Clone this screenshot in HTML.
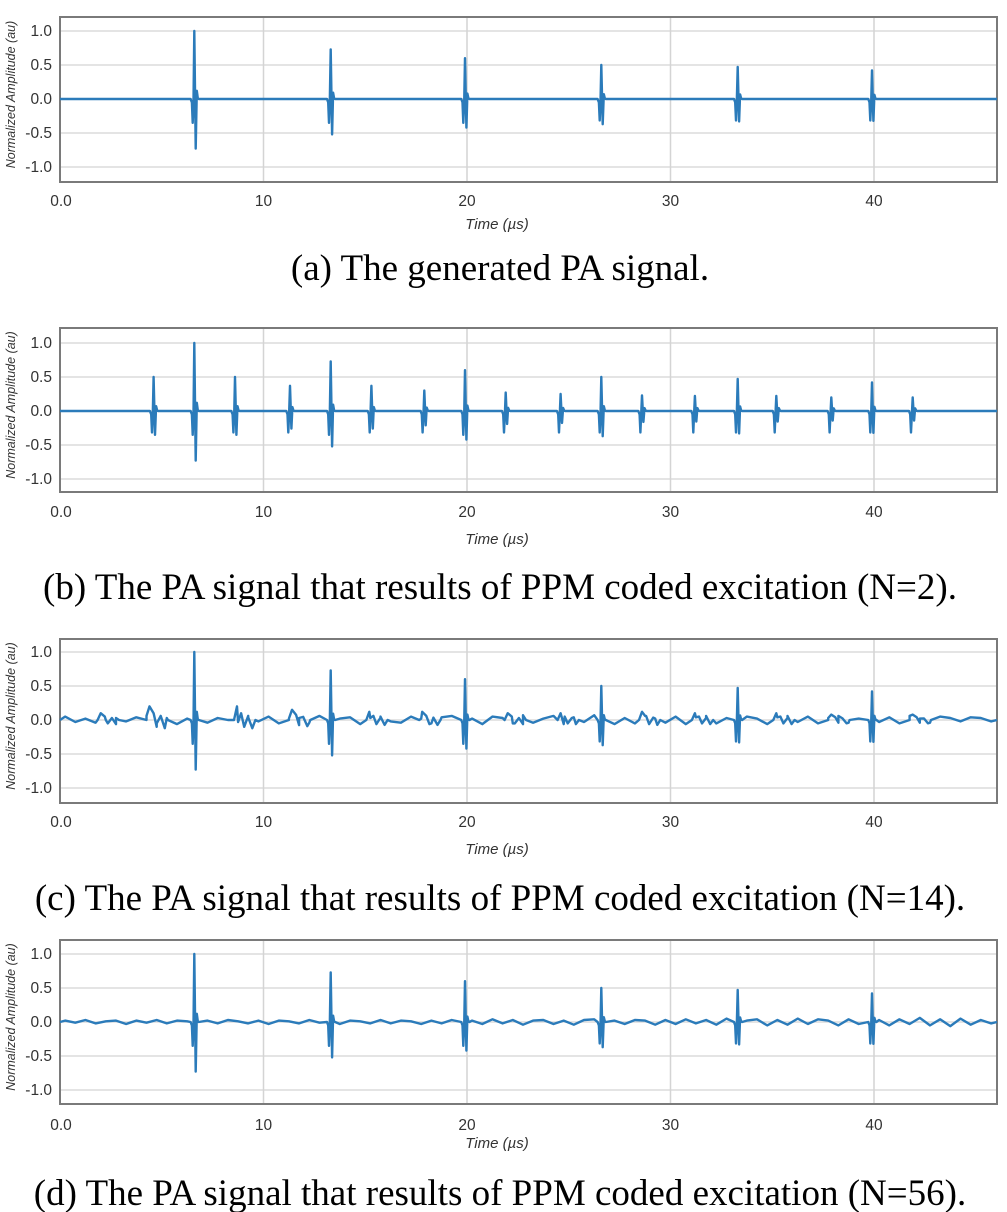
<!DOCTYPE html>
<html><head><meta charset="utf-8">
<style>
html,body{margin:0;padding:0;background:#fff;}
svg{display:block;}
.tick{font-family:"Liberation Sans",sans-serif;font-size:15.5px;fill:#333;}
.ytitle{font-family:"Liberation Sans",sans-serif;font-size:12.5px;font-style:italic;fill:#333;}
.xtitle{font-family:"Liberation Sans",sans-serif;font-size:15px;font-style:italic;fill:#333;}
.cap{font-family:"Liberation Serif",serif;font-size:37px;fill:#000;}
</style></head>
<body>
<svg id="fig" width="1007" height="1212" viewBox="0 0 1007 1212" xmlns="http://www.w3.org/2000/svg"></svg>
<script>
// ---- data ----
const mainTimes = [6.6, 13.3, 19.9, 26.6, 33.3, 39.9];
const mainPeaks = [1.0, 0.73, 0.6, 0.5, 0.47, 0.42];
const mainTroughs = [-0.73, -0.52, -0.42, -0.37, -0.33, -0.32];
const ppmTimes = [4.6, 8.6, 11.3, 15.3, 17.9, 21.9, 24.6, 28.6, 31.2, 35.2, 37.9, 41.9];
const ppmPeaks = [0.5, 0.5, 0.37, 0.37, 0.3, 0.27, 0.25, 0.23, 0.22, 0.22, 0.2, 0.2];
const echoTimes = [2.0, 4.4, 8.7, 11.4, 15.2, 17.8, 22.0, 24.6, 28.6, 31.2, 35.2, 37.9, 41.9];
const echoAmps = [0.1, 0.2, 0.2, 0.15, 0.12, 0.12, 0.1, 0.1, 0.12, 0.1, 0.1, 0.08, 0.08];
const noiseC = [0.05,-0.03,0.02,-0.04,0.0,0.03,-0.02,0.04,0.06,-0.05,0.03,-0.06,0.02,0.05,-0.04,0.03,0.0,-0.03,0.04,-0.02,
0.05,-0.05,0.02,0.03,-0.04,0.06,-0.03,0.02,0.04,-0.06,0.03,0.05,-0.02,-0.04,0.05,0.02,-0.05,0.04,0.06,-0.03,
0.02,-0.06,0.05,0.03,-0.05,0.07,-0.04,0.02,0.06,-0.06,0.04,-0.03,0.07,0.05,-0.06,0.03,-0.05,0.06,0.02,-0.04,
0.05,-0.06,0.04,0.06,-0.05,0.03,-0.04,0.05,0.02,-0.06,0.04,0.06,-0.03,0.05,-0.05,0.03,0.06,-0.04,0.02,0.05,
-0.03,0.04,-0.05,0.06,0.02,-0.04,0.05,0.03,-0.02,0.04,0.03,-0.02];
const noiseD = [0.02,-0.01,0.03,-0.02,0.01,0.02,-0.03,0.02,-0.01,0.03,-0.02,0.02,0.01,-0.03,0.02,-0.02,0.03,0.01,-0.02,0.02,
-0.03,0.02,0.01,-0.02,0.03,-0.01,0.02,-0.03,0.02,0.01,-0.02,0.03,-0.02,0.02,0.01,-0.03,0.02,-0.02,0.03,-0.01,
0.02,-0.03,0.04,-0.02,0.03,-0.04,0.02,0.03,-0.03,0.02,-0.04,0.03,0.04,-0.03,0.02,-0.03,0.03,0.02,-0.04,0.03,
-0.03,0.04,-0.02,0.03,-0.04,0.05,-0.03,0.02,0.04,-0.05,0.03,-0.04,0.05,-0.03,0.04,0.02,-0.05,0.04,-0.03,0.05,
0.03,-0.05,0.04,-0.03,0.06,-0.05,0.04,-0.06,0.05,-0.04,0.03,-0.02];
const xTickVals = [0, 10, 20, 30, 40];
const xTickLabels = ["0.0", "10", "20", "30", "40"];
const yTickVals = [1.0, 0.5, 0.0, -0.5, -1.0];
const yTickLabels = ["1.0", "0.5", "0.0", "-0.5", "-1.0"];
const captions = ["(a) The generated PA signal.",
 "(b) The PA signal that results of PPM coded excitation (N=2).",
 "(c) The PA signal that results of PPM coded excitation (N=14).",
 "(d) The PA signal that results of PPM coded excitation (N=56)."];

// ---- layout ----
const NS = "http://www.w3.org/2000/svg";
const svg = document.getElementById('fig');
const X0 = 60, X1 = 997, XMAX = (X1 - X0) / 20.35;
const panels = [
  {top:17, bottom:182, y1:31, y0:99, tickY:206, titleY:229, capY:280},
  {top:328, bottom:492, y1:343, y0:411, tickY:517, titleY:544, capY:599},
  {top:639, bottom:803, y1:652, y0:720, tickY:827, titleY:854, capY:910},
  {top:940, bottom:1104, y1:954, y0:1022, tickY:1130, titleY:1148, capY:1205}
];
function el(tag, attrs, parent){const e=document.createElementNS(NS,tag);for(const k in attrs)e.setAttribute(k,attrs[k]);(parent||svg).appendChild(e);return e;}

function pulseShape(t0, A, N){
  return [[t0-0.18,0],[t0-0.12,-0.05],[t0-0.08,-0.35*(A<0.6?0.9:1)],[t0-0.04,-0.04],[t0,A],[t0+0.07,N],[t0+0.12,0.1*A+0.02],[t0+0.17,0.01],[t0+0.22,0]];
}
function buildSignal(idx){
  const events=[];
  mainTimes.forEach((t,i)=>events.push(pulseShape(t,mainPeaks[i],mainTroughs[i])));
  if(idx===1) ppmTimes.forEach((t,i)=>events.push(pulseShape(t,ppmPeaks[i],-0.7*ppmPeaks[i])));
  if(idx===2) echoTimes.forEach((t,i)=>{const a=echoAmps[i];events.push([[t-0.15,0],[t,a],[t+0.2,a*0.5],[t+0.35,-a*0.5],[t+0.55,a*0.3],[t+0.75,-a*0.6],[t+0.9,0]]);});
  let all=[];
  events.forEach(e=>all=all.concat(e));
  const noise = idx===2?noiseC:(idx===3?noiseD:null);
  if(noise){ noise.forEach((v,i)=>all.push([i*0.5+0.25, v])); }
  all.push([0,0]);all.push([XMAX,0]);
  all.sort((a,b)=>a[0]-b[0]);
  const pulseWindows=[];
  mainTimes.forEach(t=>pulseWindows.push([t-0.2,t+0.24]));
  if(idx===1) ppmTimes.forEach(t=>pulseWindows.push([t-0.2,t+0.24]));
  const isNoise=new Set();
  if(noise) noise.forEach((v,i)=>isNoise.add(i*0.5+0.25));
  return all.filter(p=>!(isNoise.has(p[0]) && pulseWindows.some(w=>p[0]>w[0]&&p[0]<w[1])));
}

panels.forEach((p,idx)=>{
  const g = el('g',{});
  
  
  const sy = (p.y0-p.y1);
  const xS = t => X0 + t*20.35;
  const yS = v => p.y0 - v*sy;
  yTickVals.forEach((v,i)=>{
    const l=el('line',{x1:X0,x2:X1,y1:yS(v),y2:yS(v),stroke:'#dcdcdc','stroke-width':1.5},g);
    
    
    const t=el('text',{x:X0-8,y:yS(v)+5,'text-anchor':'end',class:'tick'},g);
    t.textContent=yTickLabels[i];
    
    
  });
  xTickVals.forEach((v,i)=>{
    if(v>0){const l=el('line',{x1:xS(v),x2:xS(v),y1:p.top,y2:p.bottom,stroke:'#d4d4d4','stroke-width':1.5},g);
    
    }
    const t=el('text',{x:xS(v)+(v===0?1:0),y:p.tickY,'text-anchor':'middle',class:'tick'},g);
    t.textContent=xTickLabels[i];
    
    
  });
  const frame=el('rect',{x:X0,y:p.top,width:X1-X0,height:p.bottom-p.top,fill:'none',stroke:'#7a7a7a','stroke-width':2},g);
  
  
  const pts=buildSignal(idx);
  const d=pts.map((q,i)=>(i?'L':'M')+xS(q[0]).toFixed(1)+','+yS(q[1]).toFixed(1)).join('');
  const path=el('path',{d:d,fill:'none',stroke:'#2b7bba','stroke-width':2.4,'stroke-linejoin':'round'},g);
  
  
  const yt=el('text',{x:0,y:0,'text-anchor':'middle',class:'ytitle',transform:`translate(15,${(p.top+p.bottom)/2-5}) rotate(-90)`},g);
  yt.textContent='Normalized Amplitude (au)';
  
  
  const xt=el('text',{x:497,y:p.titleY,'text-anchor':'middle',class:'xtitle'},g);
  xt.textContent='Time (\u00b5s)';
  
  
  const cap=el('text',{x:500,y:p.capY,'text-anchor':'middle',class:'cap'},g);
  cap.textContent=captions[idx];
  
  
});
</script>
</body></html>
